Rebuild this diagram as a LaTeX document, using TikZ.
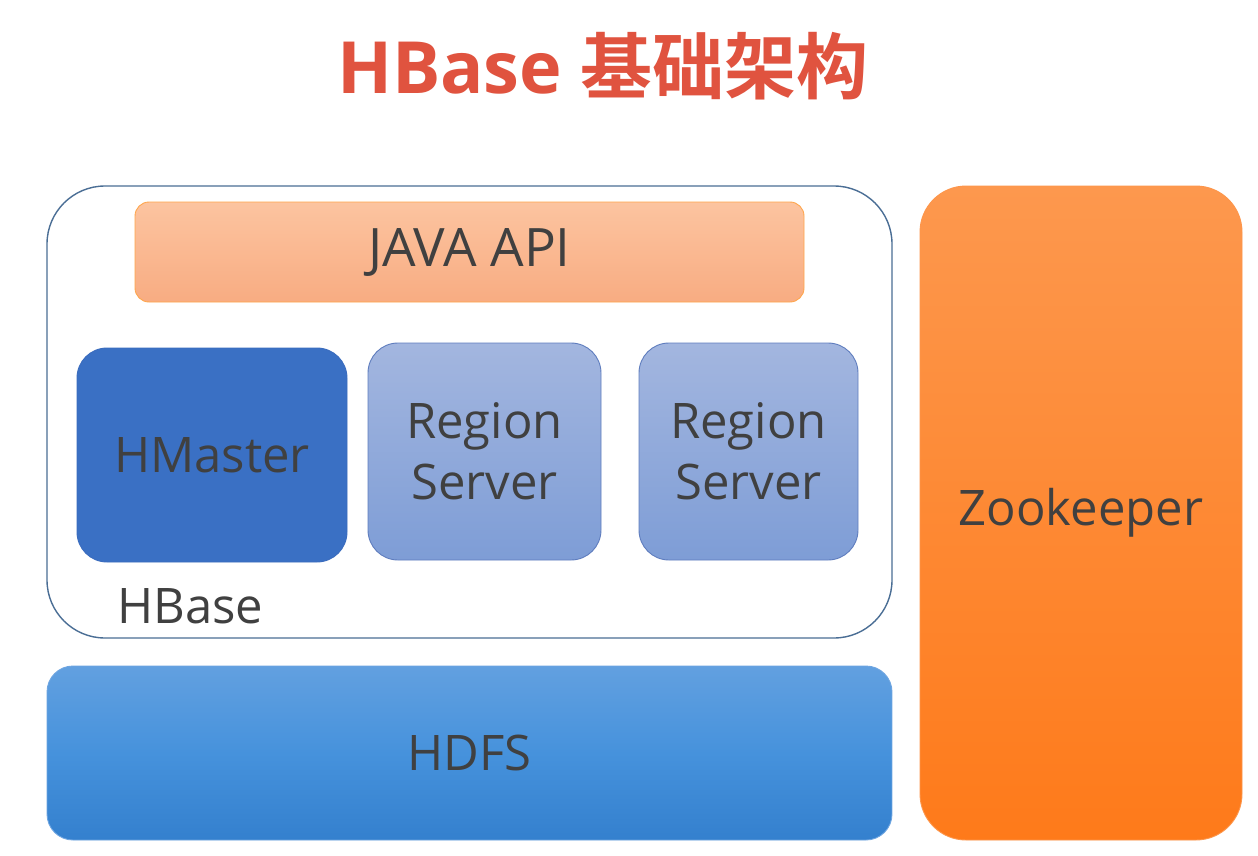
\documentclass[tikz,border=0pt]{standalone}
\usepackage{fontspec}
\setmainfont{Open Sans}
\newfontfamily\cjkfont{Noto Sans CJK SC}[BoldFont={* Bold}]
\usetikzlibrary{positioning}
\definecolor{titlered}{HTML}{E0533F}
\definecolor{txt}{HTML}{404040}
\definecolor{outline}{HTML}{4A6E95}
\tikzset{
  box/.style={draw, line width=0.9pt, inner sep=0pt, text=txt, align=center,
    font=\fontsize{49}{61}\selectfont},
  javabox/.style={box, draw=orange!70!white, top color={rgb,255:red,252;green,196;blue,160},
    bottom color={rgb,255:red,248;green,172;blue,130}, rounded corners=14pt},
  masterbox/.style={box, draw={rgb,255:red,58;green,108;blue,190}, fill={rgb,255:red,58;green,112;blue,196}, rounded corners=30pt},
  regionbox/.style={box, draw={rgb,255:red,95;green,125;blue,190}, top color={rgb,255:red,163;green,182;blue,223},
    bottom color={rgb,255:red,126;green,157;blue,214}, rounded corners=30pt},
  hdfsbox/.style={box, draw={rgb,255:red,110;green,165;blue,225}, top color={rgb,255:red,98;green,160;blue,224},
    bottom color={rgb,255:red,52;green,128;blue,206}, middle color={rgb,255:red,70;green,146;blue,220}, rounded corners=26pt},
  zkbox/.style={box, draw={rgb,255:red,253;green,150;blue,75}, top color={rgb,255:red,253;green,152;blue,78},
    bottom color={rgb,255:red,254;green,122;blue,26}, rounded corners=46pt},
  hbasebox/.style={draw=outline, line width=1.4pt, fill=white, rounded corners=58pt}
}
\begin{document}
\begin{tikzpicture}[x=1pt,y=-1pt]
\useasboundingbox[fill=white] (0,0) rectangle (1258,856);
% title
\node[text=titlered, inner sep=0pt] (title) at (603,66)
  {\fontsize{72}{80}\selectfont\bfseries HBase {\cjkfont\bfseries 基础架构}};
% outer HBase box
\draw[hbasebox] (47,186) rectangle (892,638);
\node[anchor=west, text=txt, font=\fontsize{49}{55}\selectfont, inner sep=0pt] (hbaselabel) at (117,606) {HBase};
% Java API
\node[javabox, minimum width=669pt, minimum height=100pt, font=\fontsize{53}{60}\selectfont] (java) at (469.5,252) {JAVA API};
% HMaster
\node[masterbox, minimum width=270pt, minimum height=214pt] (master) at (212,455) {HMaster};
% Region servers
\node[regionbox, minimum width=233pt, minimum height=217pt] (rs1) at (484.5,451.5) {Region\\Server};
\node[regionbox, minimum width=219pt, minimum height=217pt] (rs2) at (748.5,451.5) {Region\\Server};
% HDFS
\node[hdfsbox, minimum width=845pt, minimum height=174pt] (hdfs) at (469.5,753) {HDFS};
% Zookeeper
\node[zkbox, minimum width=322pt, minimum height=654pt] (zk) at (1081,513) {Zookeeper};
\end{tikzpicture}
\end{document}
